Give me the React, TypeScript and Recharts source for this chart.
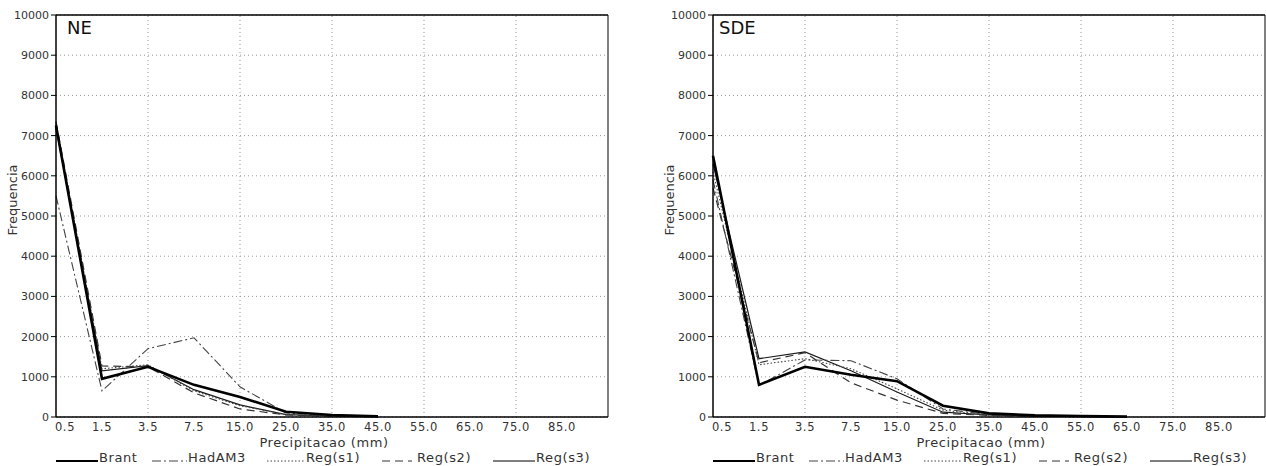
import React from "react";
import {
  LineChart,
  Line,
  XAxis,
  YAxis,
  CartesianGrid,
  ReferenceLine,
} from "recharts";

// precipitation classes (mm) on the x axis
const CATEGORIES = ["0.5", "1.5", "3.5", "7.5", "15.0", "25.0", "35.0", "45.0", "55.0", "65.0", "75.0", "85.0"];
const Y_TICKS = [0, 1000, 2000, 3000, 4000, 5000, 6000, 7000, 8000, 9000, 10000];
const GRID_X = [2, 4, 6, 8, 10];

// NE region
const NE_BRANT = [7250, 950, 1250, 800, 500, 130, 50, 15];
const NE_HADAM3 = [5500, 650, 1700, 1970, 750, 100, 40, 10];
const NE_REG_S1 = [7300, 1200, 1300, 650, 280, 60, 30, 10];
const NE_REG_S2 = [7350, 1270, 1250, 600, 200, 50, 20, 5];
const NE_REG_S3 = [7200, 1150, 1280, 680, 300, 60, 25, 10];

// SDE region
const SDE_BRANT = [6500, 800, 1250, 1050, 890, 280, 90, 40, 25, 10];
const SDE_HADAM3 = [5900, 780, 1420, 1400, 950, 200, 60, 30, 15, 5];
const SDE_REG_S1 = [6100, 1300, 1450, 1200, 700, 170, 50, 25, 10, 5];
const SDE_REG_S2 = [5700, 1350, 1600, 850, 420, 90, 40, 20, 15, 10];
const SDE_REG_S3 = [6300, 1450, 1620, 1150, 620, 120, 50, 25, 10, 5];

const FONT = "'DejaVu Sans', sans-serif";
const TEXT = "#333";

const SERIES = [
  { key: "s3", name: "Reg(s3)", stroke: "#1a1a1a", width: 1.2, dash: undefined, legendX: 437, legendLen: 42 },
  { key: "s2", name: "Reg(s2)", stroke: "#333", width: 1.2, dash: "8 5", legendX: 326, legendLen: 30 },
  { key: "s1", name: "Reg(s1)", stroke: "#444", width: 1.1, dash: "1.5 2", legendX: 211, legendLen: 38 },
  { key: "had", name: "HadAM3", stroke: "#444", width: 1.1, dash: "9 3 2 3", legendX: 96, legendLen: 35 },
  { key: "brant", name: "Brant", stroke: "#000", width: 2.6, dash: undefined, legendX: 0, legendLen: 42 },
];

const PLOT_LEFT = 56;
const PLOT_W = 552;
const H = 466;

function buildRows(brant: number[], had: number[], s1: number[], s2: number[], s3: number[]) {
  return CATEGORIES.map((_, i) => ({
    x: i,
    brant: i < brant.length ? brant[i] : null,
    had: i < had.length ? had[i] : null,
    s1: i < s1.length ? s1[i] : null,
    s2: i < s2.length ? s2[i] : null,
    s3: i < s3.length ? s3[i] : null,
  }));
}

const XTick = (props: any) => {
  const { x, y, payload } = props;
  const shift = payload.value === 0 ? 9 : 0;
  return (
    <text x={x + shift} y={y + 14} textAnchor="middle" fontSize={11.5} fill={TEXT} fontFamily={FONT} letterSpacing={0.6}>
      {CATEGORIES[payload.value]}
    </text>
  );
};

interface PanelProps {
  title: string;
  titleX: number;
  left: number;
  width: number;
  rows: any[];
}

function Panel({ title, titleX, left, width, rows }: PanelProps) {
  const rightMargin = width - PLOT_LEFT - PLOT_W;
  return (
    <div style={{ position: "absolute", left, top: 0, width, height: H }}>
      <LineChart width={width} height={H} data={rows} margin={{ top: 15, right: rightMargin, bottom: 15, left: 0 }}>
        <CartesianGrid vertical={false} stroke="#999" strokeDasharray="1 3" />
        {GRID_X.map((g) => (
          <ReferenceLine key={g} x={g} stroke="#999" strokeDasharray="1 3" />
        ))}
        <ReferenceLine y={10000} stroke="#000" strokeWidth={1.5} />
        <ReferenceLine x={12} stroke="#000" strokeWidth={1} />
        <XAxis
          type="number"
          dataKey="x"
          domain={[0, 12]}
          ticks={CATEGORIES.map((_, i) => i)}
          interval={0}
          tick={<XTick />}
          tickLine={false}
          tickSize={0}
          tickMargin={0}
          height={34}
          axisLine={{ stroke: "#000", strokeWidth: 1.5 }}
        />
        <YAxis
          type="number"
          domain={[0, 10000]}
          ticks={Y_TICKS}
          interval={0}
          width={PLOT_LEFT}
          tickSize={5}
          tickLine={{ stroke: "#000" }}
          axisLine={{ stroke: "#000", strokeWidth: 1.5 }}
          tick={{ fontSize: 11, fill: TEXT, fontFamily: FONT }}
        />
        {SERIES.map((s) => (
          <Line
            key={s.key}
            type="linear"
            dataKey={s.key}
            name={s.name}
            stroke={s.stroke}
            strokeWidth={s.width}
            strokeDasharray={s.dash}
            dot={false}
            activeDot={false}
            isAnimationActive={false}
          />
        ))}
      </LineChart>
      <svg width={width} height={H} style={{ position: "absolute", left: 0, top: 0, pointerEvents: "none" }}>
        <text x={titleX} y={34} fontSize={18} fill="#111" fontFamily={FONT}>
          {title}
        </text>
        <text
          x={17}
          y={200}
          transform="rotate(-90, 17, 200)"
          textAnchor="middle"
          fontSize={13}
          fill={TEXT}
          fontFamily={FONT}
        >
          Frequencia
        </text>
        <text x={PLOT_LEFT + PLOT_W / 2 - 8} y={447} textAnchor="middle" fontSize={13} fill={TEXT} fontFamily={FONT} letterSpacing={0.6}>
          Precipitacao (mm)
        </text>
        {SERIES.map((s) => (
          <g key={s.key}>
            <line
              x1={PLOT_LEFT + s.legendX}
              x2={PLOT_LEFT + s.legendX + s.legendLen}
              y1={461}
              y2={461}
              stroke={s.key === "s3" ? "#000" : s.stroke}
              strokeWidth={s.key === "brant" ? 2 : 1.2}
              strokeDasharray={s.dash}
            />
            <text
              x={PLOT_LEFT + s.legendX + s.legendLen + (s.key === "s2" ? 5 : 1)}
              y={462}
              fontSize={13}
              fill={TEXT}
              fontFamily={FONT}
              letterSpacing={0.6}
            >
              {s.name}
            </text>
          </g>
        ))}
      </svg>
    </div>
  );
}

export default function App() {
  const neRows = buildRows(NE_BRANT, NE_HADAM3, NE_REG_S1, NE_REG_S2, NE_REG_S3);
  const sdeRows = buildRows(SDE_BRANT, SDE_HADAM3, SDE_REG_S1, SDE_REG_S2, SDE_REG_S3);
  return (
    <div style={{ position: "absolute", left: 0, top: 0, width: 1266, height: H, background: "#fff", overflow: "hidden" }}>
      <Panel title="NE" titleX={67} left={0} width={620} rows={neRows} />
      <Panel title="SDE" titleX={62} left={657} width={609} rows={sdeRows} />
    </div>
  );
}
